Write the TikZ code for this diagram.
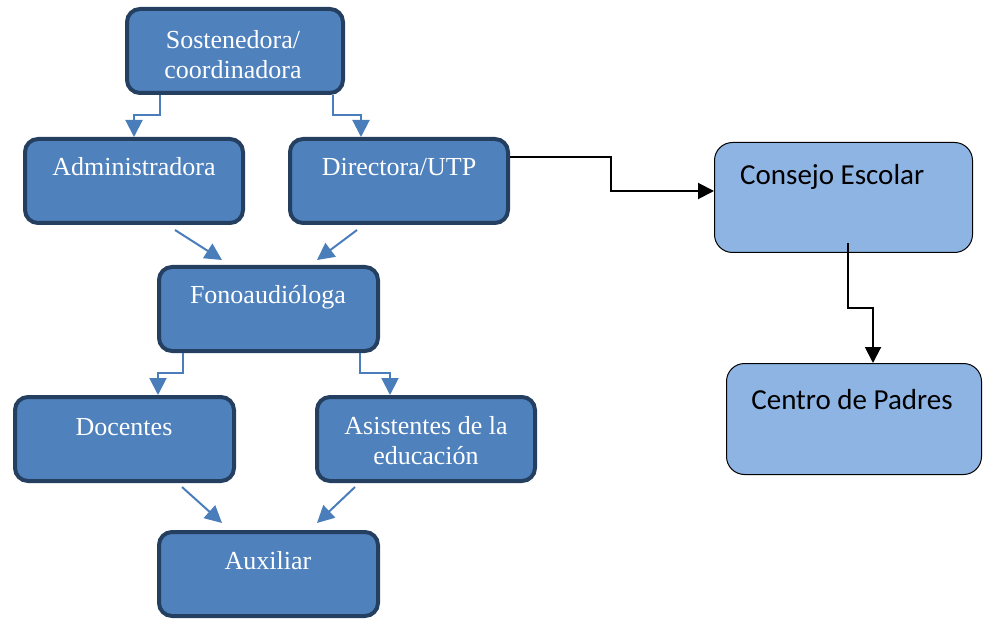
\documentclass[tikz,border=0pt]{standalone}
\usepackage{fontspec}
\setmainfont{Liberation Serif}
\newfontfamily\calfont{Carlito}
\usetikzlibrary{arrows.meta,calc}
\definecolor{boxfill}{HTML}{4F81BD}
\definecolor{boxborder}{HTML}{243F60}
\definecolor{lightfill}{HTML}{8EB4E3}
\definecolor{linkblue}{HTML}{4A7EBB}
\tikzset{
  orgbox/.style={draw=boxborder, line width=4pt, fill=boxfill, rounded corners=13pt,
    minimum width=218pt, minimum height=84pt, inner sep=0pt},
  sidebox/.style={draw=black, line width=1pt, fill=lightfill, rounded corners=18pt,
    inner sep=0pt},
  orgtext/.style={text=white, font=\fontsize{26}{30}\selectfont, align=center, inner sep=0pt},
  sidetext/.style={text=black, font=\calfont\fontsize{29}{32}\selectfont, inner sep=0pt},
  bluelink/.style={draw=linkblue, line width=2pt, -{Triangle[width=17pt,length=17pt]}},
  blacklink/.style={draw=black, line width=2pt, -{Triangle[width=16pt,length=16pt]}}
}
\begin{document}
\begin{tikzpicture}[x=1pt,y=-1pt]
\useasboundingbox (0,0) rectangle (985,620);
% boxes
\node[orgbox, minimum width=216pt] (sos) at (235,51) {};
\node[orgbox] (adm) at (134,181) {};
\node[orgbox] (dir) at (399,181) {};
\node[orgbox, minimum width=219pt] (fono) at (268.5,309) {};
\node[orgbox, minimum width=219pt] (doc) at (124.5,439) {};
\node[orgbox] (asis) at (426,439) {};
\node[orgbox, minimum width=219pt] (aux) at (268.5,574) {};
\node[sidebox, minimum width=258pt, minimum height=110pt] (con) at (843.5,197.5) {};
\node[sidebox, minimum width=255pt, minimum height=111pt] (cen) at (854,419) {};
% texts
\node[orgtext] (tsos) at (233,55) {Sostenedora/\\coordinadora};
\node[orgtext] (tadm) at (134,167) {Administradora};
\node[orgtext] (tdir) at (399,167) {Directora/UTP};
\node[orgtext] (tfono) at (268,297) {Fonoaudióloga};
\node[orgtext] (tdoc) at (124,427) {Docentes};
\node[orgtext] (tasis) at (426,441) {Asistentes de la\\educación};
\node[orgtext] (taux) at (268,561) {Auxiliar};
\node[sidetext, anchor=west] (tcon) at (740,177) {Consejo Escolar};
\node[sidetext] (tcen) at (852,400) {Centro de Padres};
% blue connectors
\draw[bluelink] (160,0 |- sos.south) -- (160,115) -| (adm.north);
\draw[bluelink] (333,0 |- sos.south) -- (333,115) -| (361,0 |- dir.north);
\draw[bluelink] ($(adm.south)+(41,5)$) -- ($(fono.north)+(-46.5,-5)$);
\draw[bluelink] ($(dir.south)+(-42,5)$) -- ($(fono.north)+(48.5,-5)$);
\draw[bluelink] (183,0 |- fono.south) -- (183,373) -| (158,0 |- doc.north);
\draw[bluelink] (360,0 |- fono.south) -- (360,373) -| (390,0 |- asis.north);
\draw[bluelink] ($(doc.south)+(57.5,4)$) -- ($(aux.north)+(-46.5,-7)$);
\draw[bluelink] ($(asis.south)+(-71,4)$) -- ($(aux.north)+(48.5,-7)$);
% black connectors
\draw[blacklink] ($(dir.east)+(0,-24)$) -- (611,157) |- ($(con.west)+(0,-6.5)$);
\draw[blacklink] ($(con.south)+(4.5,-9.5)$) -- (848,308) -| (873,0 |- cen.north);
\end{tikzpicture}
\end{document}
